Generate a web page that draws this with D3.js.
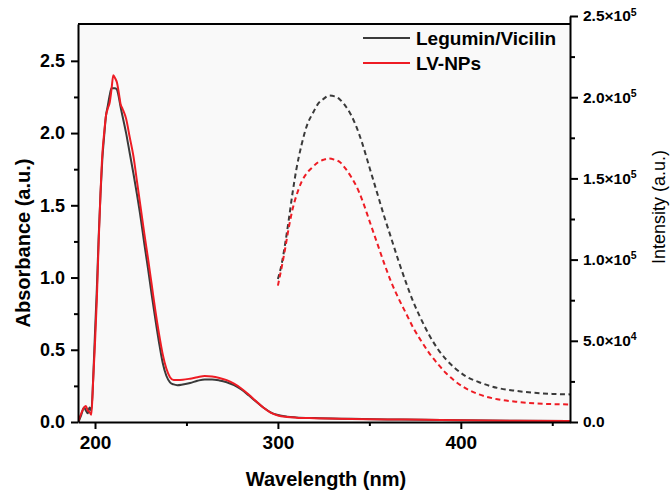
<!DOCTYPE html>
<html>
<head>
<meta charset="utf-8">
<script src="https://cdn.jsdelivr.net/npm/d3@7"></script>
<style>
  body { margin: 0; background: #fff; }
  svg { font-family: "Liberation Sans", Arial, sans-serif; }
  .axis path, .axis line { stroke: #000; stroke-width: 2; }
  .axis text { font-weight: bold; fill: #000; }
</style>
</head>
<body>
<svg id="chart"></svg>
<script>
// absorbance spectra (left axis)
const absWavelength = [191, 192.5, 194, 195, 196, 197, 198, 199, 200, 201, 202, 203, 204, 205, 206, 207, 208, 209, 210, 211, 212, 213, 214, 215, 217, 219, 221, 223, 225, 227, 229, 231, 233, 235, 237, 239, 241, 243, 245, 248, 252, 256, 260, 264, 268, 272, 276, 280, 284, 288, 292, 296, 300, 305, 310, 320, 340, 360, 380, 400, 430, 460];
const absLegVic = [0.00, 0.05, 0.10, 0.08, 0.06, 0.10, 0.08, 0.30, 0.62, 0.92, 1.28, 1.58, 1.82, 1.98, 2.12, 2.19, 2.26, 2.31, 2.31, 2.31, 2.30, 2.25, 2.18, 2.12, 2.00, 1.86, 1.72, 1.57, 1.41, 1.23, 1.06, 0.88, 0.71, 0.55, 0.41, 0.32, 0.275, 0.26, 0.255, 0.26, 0.27, 0.285, 0.295, 0.295, 0.288, 0.275, 0.255, 0.225, 0.185, 0.142, 0.10, 0.067, 0.048, 0.037, 0.032, 0.027, 0.022, 0.018, 0.015, 0.012, 0.009, 0.007];
const absLVNPs = [0.01, 0.06, 0.10, 0.11, 0.08, 0.07, 0.05, 0.29, 0.55, 0.85, 1.25, 1.58, 1.85, 2.00, 2.12, 2.17, 2.21, 2.30, 2.40, 2.38, 2.35, 2.28, 2.20, 2.17, 2.10, 1.97, 1.84, 1.66, 1.48, 1.30, 1.13, 0.95, 0.77, 0.61, 0.47, 0.37, 0.31, 0.29, 0.29, 0.292, 0.30, 0.31, 0.318, 0.315, 0.305, 0.29, 0.265, 0.232, 0.19, 0.145, 0.10, 0.065, 0.045, 0.035, 0.030, 0.026, 0.021, 0.018, 0.015, 0.012, 0.009, 0.007];

// fluorescence emission (right axis)
const emWavelength = [300, 302, 304, 306, 308, 310, 313, 316, 319, 322, 325, 328, 331, 334, 337, 340, 343, 346, 350, 354, 358, 362, 366, 370, 374, 378, 383, 388, 392, 397, 403, 410, 420, 430, 440, 450, 460];
const emLegVic = [88000, 97000, 110000, 125000, 141000, 155000, 171000, 183000, 190000, 196000, 199000, 201000, 200500, 198500, 194500, 189000, 181500, 172000, 157000, 142000, 127000, 113000, 99000, 86000, 74000, 64000, 53000, 44000, 38500, 33000, 28000, 24500, 21000, 19200, 18000, 17300, 17000];
const emLVNPs = [84000, 95000, 107000, 120000, 131000, 139000, 148000, 153500, 157000, 160000, 161500, 162300, 161500, 160000, 156000, 151000, 145000, 137000, 124000, 111000, 98000, 86000, 76000, 67000, 58000, 50500, 42000, 35000, 30000, 25000, 20500, 17000, 14000, 12500, 11500, 11000, 10800];

const seriesNames = ["Legumin/Vicilin", "LV-NPs"];
const seriesColors = ["#3a3a3a", "#ee1c24"];

const xTicks = [200, 300, 400];
const xMinorTicks = [250, 350, 450];
const leftTicks = [0, 0.5, 1.0, 1.5, 2.0, 2.5];
const leftMinorTicks = [0.25, 0.75, 1.25, 1.75, 2.25];
const rightTicks = [0, 50000, 100000, 150000, 200000, 250000];
const rightMinorTicks = [25000, 75000, 125000, 175000, 225000];

class spectraChart {
  constructor(_config) {
    this.config = {
      parentElement: _config.parentElement,
      containerWidth: _config.containerWidth || 670,
      containerHeight: _config.containerHeight || 491,
      margin: _config.margin || {top: 24, right: 100, bottom: 69, left: 78}
    };
    this.initVis();
  }

  initVis() {
    let vis = this;
    vis.width = vis.config.containerWidth - vis.config.margin.left - vis.config.margin.right;
    vis.height = vis.config.containerHeight - vis.config.margin.top - vis.config.margin.bottom;

    vis.xScale = d3.scaleLinear().domain([190.7, 459.7]).range([0, vis.width]);
    vis.yScale = d3.scaleLinear().domain([0, 2.755]).range([vis.height, 0]);
    // right axis sticks out a little above the frame
    vis.y2Scale = d3.scaleLinear().domain([0, 250000]).range([vis.height, -8]);

    vis.svg = d3.select(vis.config.parentElement)
      .attr('width', vis.config.containerWidth)
      .attr('height', vis.config.containerHeight);

    vis.chart = vis.svg.append('g')
      .attr('transform', `translate(${vis.config.margin.left},${vis.config.margin.top})`);

    vis.chart.append('rect')
      .attr('width', vis.width)
      .attr('height', vis.height)
      .attr('fill', '#f9f9f9');

    vis.chart.append('clipPath').attr('id', 'clip')
      .append('rect').attr('width', vis.width).attr('height', vis.height);

    vis.renderVis();
  }

  renderVis() {
    let vis = this;
    const lineAbs = d3.line()
      .x((d, i) => vis.xScale(absWavelength[i]))
      .y(d => vis.yScale(d))
      .curve(d3.curveMonotoneX);
    const lineEm = d3.line()
      .x((d, i) => vis.xScale(emWavelength[i]))
      .y(d => vis.y2Scale(d))
      .curve(d3.curveMonotoneX);

    const plot = vis.chart.append('g').attr('clip-path', 'url(#clip)');

    [emLegVic, emLVNPs].forEach((s, i) => {
      plot.append('path')
        .attr('d', lineEm(s))
        .attr('fill', 'none')
        .attr('stroke', seriesColors[i])
        .attr('stroke-width', 2)
        .attr('stroke-dasharray', '5,3.5');
    });

    [absLegVic, absLVNPs].forEach((s, i) => {
      plot.append('path')
        .attr('d', lineAbs(s))
        .attr('fill', 'none')
        .attr('stroke', seriesColors[i])
        .attr('stroke-width', 2);
    });

    // top frame line
    vis.chart.append('line')
      .attr('x1', 0).attr('x2', vis.width)
      .attr('y1', 0).attr('y2', 0)
      .attr('stroke', '#000').attr('stroke-width', 2);

    // minor ticks first
    vis.chart.append('g').attr('class', 'axis')
      .attr('transform', `translate(0,${vis.height})`)
      .call(d3.axisBottom(vis.xScale).tickValues(xMinorTicks).tickSize(4).tickFormat(''))
      .select('.domain').remove();
    vis.chart.append('g').attr('class', 'axis')
      .call(d3.axisLeft(vis.yScale).tickValues(leftMinorTicks).tickSize(4).tickFormat(''))
      .select('.domain').remove();
    vis.chart.append('g').attr('class', 'axis')
      .attr('transform', `translate(${vis.width},0)`)
      .call(d3.axisRight(vis.y2Scale).tickValues(rightMinorTicks).tickSize(5).tickFormat(''))
      .select('.domain').remove();

    vis.xAxisG = vis.chart.append('g').attr('class', 'axis x-axis')
      .attr('transform', `translate(0,${vis.height})`)
      .call(d3.axisBottom(vis.xScale).tickValues(xTicks).tickSize(7).tickSizeOuter(0).tickPadding(7));
    vis.xAxisG.selectAll('text').style('font-size', '19px');

    vis.yAxisG = vis.chart.append('g').attr('class', 'axis y-axis')
      .call(d3.axisLeft(vis.yScale).tickValues(leftTicks).tickSize(7).tickSizeOuter(0)
        .tickPadding(6).tickFormat(d3.format('.1f')));
    vis.yAxisG.selectAll('text').style('font-size', '18px');

    vis.y2AxisG = vis.chart.append('g').attr('class', 'axis y2-axis')
      .attr('transform', `translate(${vis.width},0)`)
      .call(d3.axisRight(vis.y2Scale).tickValues(rightTicks).tickSize(8).tickSizeOuter(0).tickPadding(5));
    vis.y2AxisG.selectAll('text')
      .style('font-size', '15.5px')
      .each(function(d) {
        const t = d3.select(this).text('');
        if (d === 0) { t.text('0.0'); return; }
        const exp = Math.floor(Math.log10(d));
        const mant = (d / Math.pow(10, exp)).toFixed(1);
        t.append('tspan').text(`${mant}\u00d710`);
        t.append('tspan').attr('dy', '-0.55em').style('font-size', '10.5px').text(exp);
      });

    // axis titles
    vis.svg.append('text')
      .attr('transform', `translate(30,${vis.config.margin.top + vis.height / 2 + 20}) rotate(-90)`)
      .attr('text-anchor', 'middle')
      .style('font-size', '20px').style('font-weight', 'bold')
      .text('Absorbance (a.u.)');
    vis.svg.append('text')
      .attr('x', vis.config.margin.left + vis.width / 2 + 2)
      .attr('y', 486)
      .attr('text-anchor', 'middle')
      .style('font-size', '20px').style('font-weight', 'bold')
      .text('Wavelength (nm)');
    vis.svg.append('text')
      .attr('transform', `translate(665,207) rotate(-90)`)
      .attr('text-anchor', 'middle')
      .style('font-size', '18px')
      .text('Intensity (a.u.)');

    // legend
    const legend = vis.svg.append('g');
    seriesNames.forEach((name, i) => {
      const y = 38 + i * 25;
      legend.append('line')
        .attr('x1', 363).attr('x2', 410).attr('y1', y).attr('y2', y)
        .attr('stroke', seriesColors[i]).attr('stroke-width', 2);
      legend.append('text')
        .attr('x', 416).attr('y', y + 7)
        .style('font-size', '19px').style('font-weight', 'bold')
        .text(name);
    });
  }
}

new spectraChart({parentElement: '#chart'});
</script>
</body>
</html>
